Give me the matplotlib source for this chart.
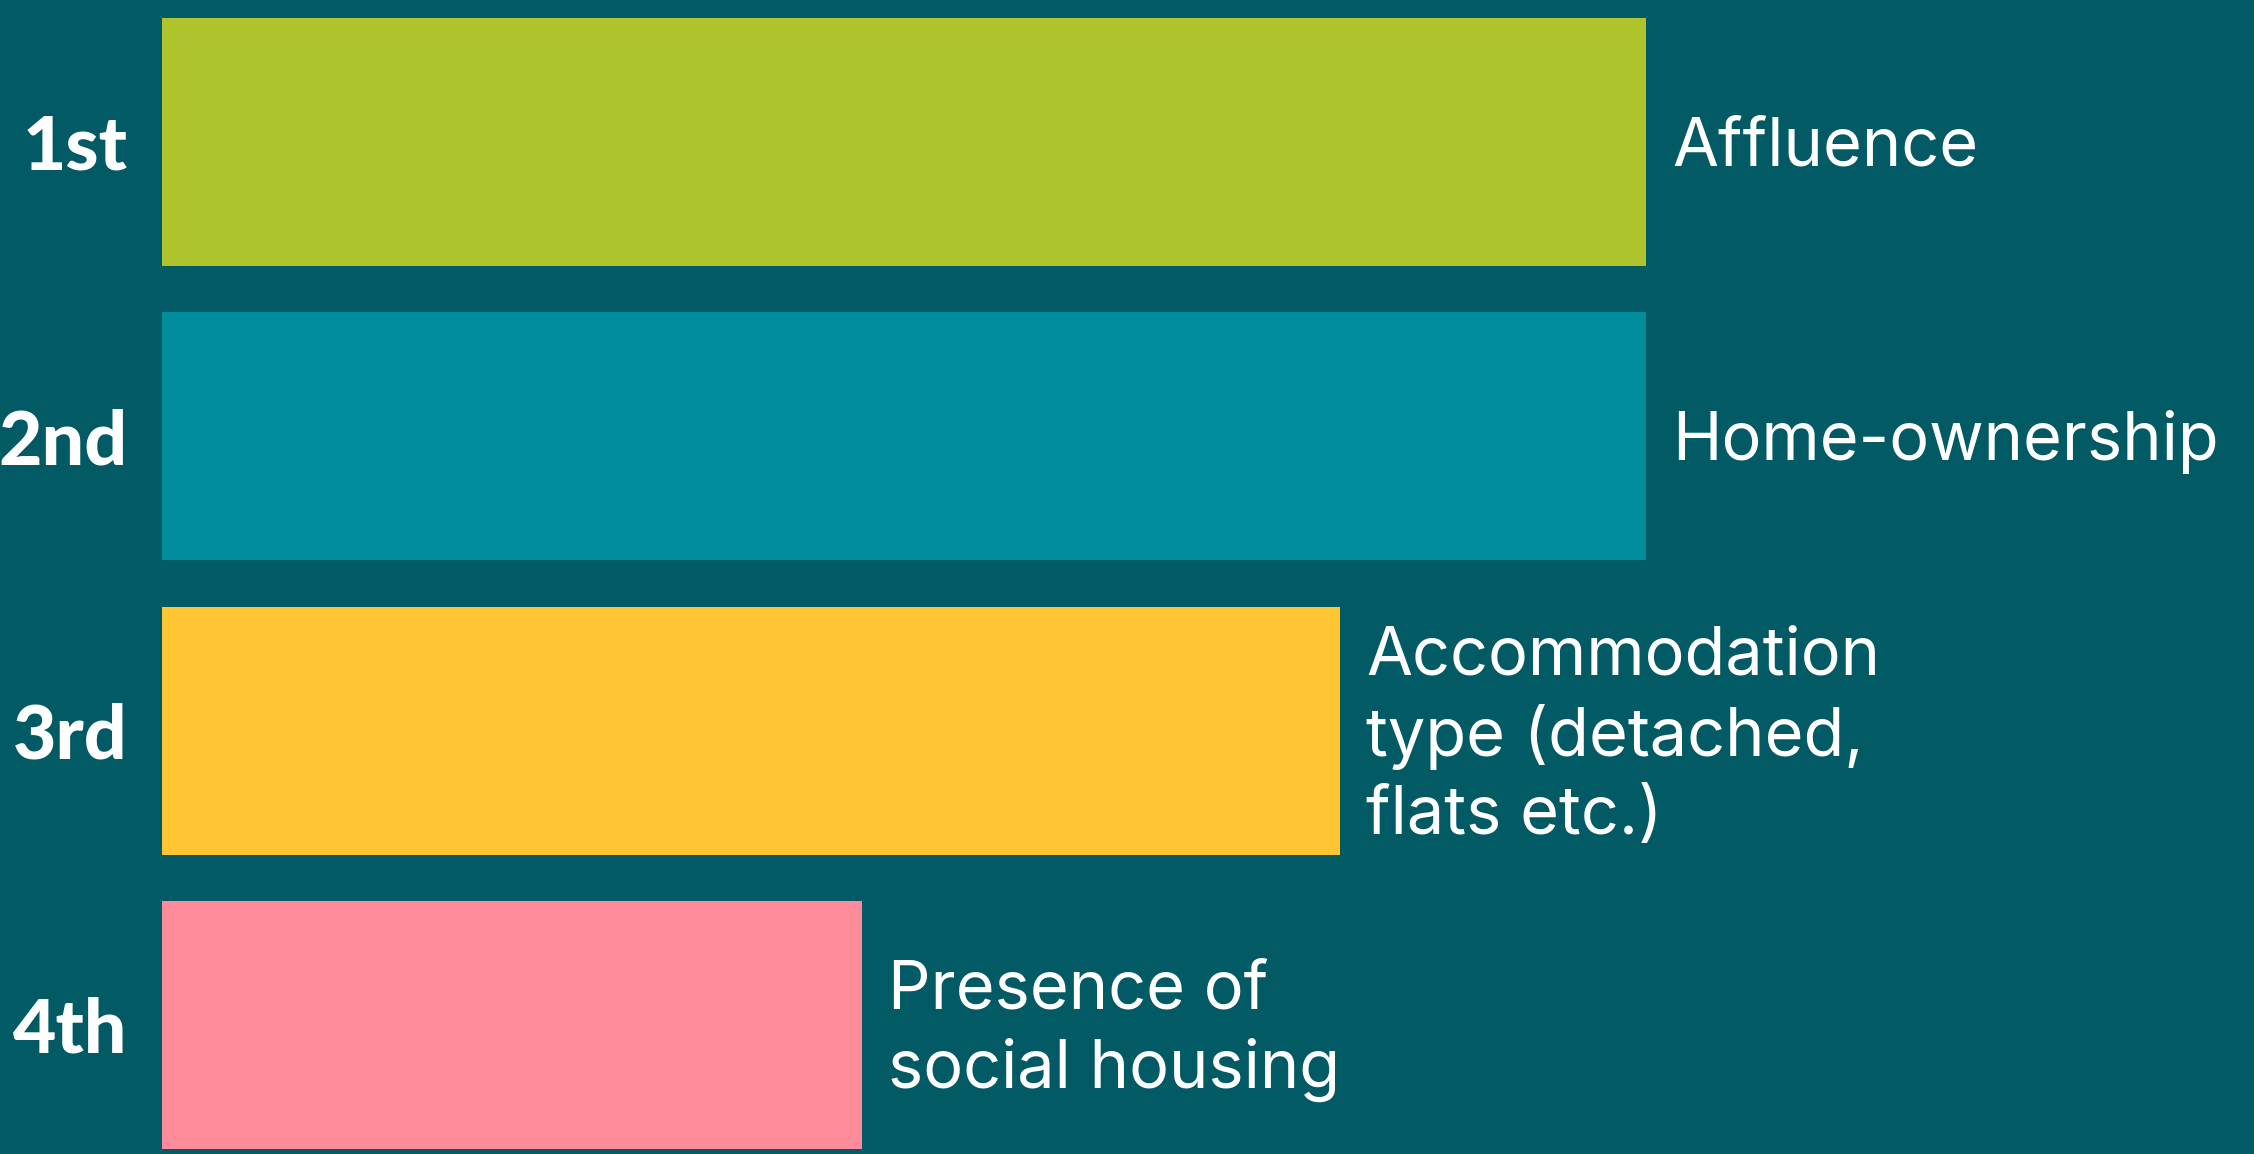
"""
Ranking of neighbourhood factors - horizontal bar chart
"""

import matplotlib.pyplot as plt

# Datos
ranks = ['1st', '2nd', '3rd', '4th']
factors = ['Affluence', 'Home-ownership',
           'Accommodation\ntype (detached,\nflats etc.)',
           'Presence of\nsocial housing']
scores = [100, 100, 79.4, 47.2]
colors = ['#AEC42C', '#008E9E', '#FFC532', '#FF8A99']

BG = '#015A64'

plt.rcParams['font.family'] = ['Lato', 'DejaVu Sans']

fig = plt.figure(figsize=(22.54, 11.54), dpi=100, facecolor=BG)
ax = fig.add_axes([162 / 2254, 0, 1484 / 2254, 1])
ax.set_facecolor(BG)

y = list(range(len(ranks)))
ax.barh(y, scores, height=0.843, color=colors)

ax.set_xlim(0, 100)
ax.set_ylim(3.439, -0.4825)

# Etiquetas de posición a la izquierda
ax.set_yticks(y, ranks)
ax.tick_params(axis='y', length=0, pad=25, labelsize=54, labelcolor='white')
for lbl in ax.get_yticklabels():
    lbl.set_fontweight('black')
ax.set_xticks([])
for s in ax.spines.values():
    s.set_visible(False)

# Nombre del factor a la derecha de cada barra
for yi, v, txt in zip(y, scores, factors):
    ax.text(v + 1.75, yi + 0.02, txt, ha='left', va='center', color='white',
            fontsize=48, linespacing=1.3, family=['Inter', 'DejaVu Sans'],
            clip_on=False)

plt.savefig('out.png', dpi=100, facecolor=BG)
